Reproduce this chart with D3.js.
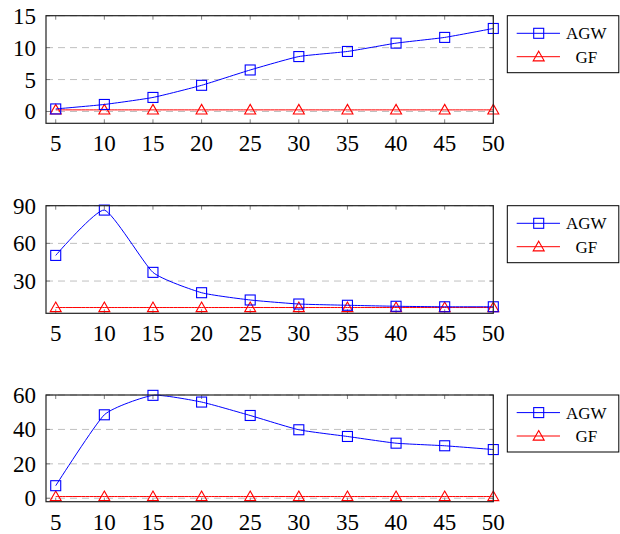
<!DOCTYPE html>
<html>
<head>
<meta charset="utf-8">
<script src="https://cdn.jsdelivr.net/npm/d3@7"></script>
<style>
  body { margin: 0; background: #ffffff; }
  svg { display: block; font-family: "Liberation Serif", "DejaVu Serif", serif; }
</style>
</head>
<body>
<div id="chart"></div>
<script>
// x positions shared by the three plots
const xValues = [5, 10, 15, 20, 25, 30, 35, 40, 45, 50];
const seriesNames = ["AGW", "GF"];

// plot 1
const agw1 = [0.4, 1.1, 2.2, 4.1, 6.5, 8.6, 9.4, 10.7, 11.6, 13.0];
const gf1 = [0.25, 0.25, 0.25, 0.25, 0.25, 0.25, 0.25, 0.25, 0.25, 0.25];
const yTicks1 = [0, 5, 10, 15];

// plot 2
const agw2 = [50.4, 86.5, 36.9, 20.7, 14.9, 11.7, 10.7, 9.9, 9.5, 9.5];
const gf2 = [8.9, 8.9, 8.9, 8.9, 8.9, 8.9, 8.9, 8.9, 8.9, 8.9];
const yTicks2 = [30, 60, 90];

// plot 3
const agw3 = [7.3, 48.5, 59.8, 55.9, 48.1, 39.8, 35.9, 32.0, 30.5, 28.3];
const gf3 = [1.0, 1.0, 1.0, 1.0, 1.0, 1.0, 1.0, 1.0, 1.0, 1.0];
const yTicks3 = [0, 20, 40, 60];

const width = 620, height = 534;
const blue = "#0000ff", red = "#ff0000";

const plots = [
    { top: 15.7, bottom: 123.3, yDomain: [-1.85, 15], ticks: yTicks1, agw: agw1, gf: gf1 },
    { top: 205.7, bottom: 313.3, yDomain: [4.3, 90], ticks: yTicks2, agw: agw2, gf: gf2 },
    { top: 395, bottom: 501.7, yDomain: [-2, 60], ticks: yTicks3, agw: agw3, gf: gf3 }
];

const svg = d3.select("#chart").append("svg")
    .attr("width", width)
    .attr("height", height);

const xScale = d3.scaleLinear()
    .domain([4, 50])
    .range([46, 493.3]);

function drawMarker(g, kind, x, y, color) {
    if (kind === "square") {
        g.append("rect")
            .attr("x", x - 5).attr("y", y - 5)
            .attr("width", 10).attr("height", 10)
            .attr("fill", "none")
            .attr("stroke", color)
            .attr("stroke-width", 1.1);
    } else {
        const s = 5.5;
        g.append("path")
            .attr("d", `M${x},${y - s} L${x + s},${y + s * 0.75} L${x - s},${y + s * 0.75} Z`)
            .attr("fill", "none")
            .attr("stroke", color)
            .attr("stroke-width", 1.1);
    }
}

function drawPlot(p) {
    const g = svg.append("g");
    const yScale = d3.scaleLinear()
        .domain(p.yDomain)
        .range([p.bottom, p.top]);
    const x0 = xScale.range()[0], x1 = xScale.range()[1];

    // dashed grid
    g.selectAll(".grid")
        .data(p.ticks)
        .enter().append("line")
        .attr("x1", x0).attr("x2", x1)
        .attr("y1", d => yScale(d)).attr("y2", d => yScale(d))
        .attr("stroke", "#c0c0c0")
        .attr("stroke-width", 1)
        .attr("stroke-dasharray", "7,5");

    // inward ticks on all four sides
    const tickColor = "#808080", tl = 4;
    xValues.forEach(v => {
        g.append("line").attr("x1", xScale(v)).attr("x2", xScale(v))
            .attr("y1", p.bottom).attr("y2", p.bottom - tl)
            .attr("stroke", tickColor);
        g.append("line").attr("x1", xScale(v)).attr("x2", xScale(v))
            .attr("y1", p.top).attr("y2", p.top + tl)
            .attr("stroke", tickColor);
    });
    p.ticks.forEach(v => {
        g.append("line").attr("x1", x0).attr("x2", x0 + tl)
            .attr("y1", yScale(v)).attr("y2", yScale(v))
            .attr("stroke", tickColor);
        g.append("line").attr("x1", x1).attr("x2", x1 - tl)
            .attr("y1", yScale(v)).attr("y2", yScale(v))
            .attr("stroke", tickColor);
    });

    // tick labels
    g.selectAll(".xl")
        .data(xValues)
        .enter().append("text")
        .attr("x", d => xScale(d))
        .attr("y", p.bottom + 28)
        .attr("text-anchor", "middle")
        .attr("font-size", 23)
        .text(d => d);

    g.selectAll(".yl")
        .data(p.ticks)
        .enter().append("text")
        .attr("x", 36)
        .attr("y", d => yScale(d) + 8)
        .attr("text-anchor", "end")
        .attr("font-size", 23)
        .text(d => d);

    const line = d3.line()
        .x((d, i) => xScale(xValues[i]))
        .y(d => yScale(d))
        .curve(d3.curveCardinal.tension(0.5));

    const series = [
        { values: p.gf, color: red, marker: "triangle" },
        { values: p.agw, color: blue, marker: "square" }
    ];
    series.forEach(s => {
        g.append("path")
            .datum(s.values)
            .attr("fill", "none")
            .attr("stroke", s.color)
            .attr("stroke-width", 1)
            .attr("d", line);
        s.values.forEach((v, i) => drawMarker(g, s.marker, xScale(xValues[i]), yScale(v), s.color));
    });

    // frame
    g.append("rect")
        .attr("x", x0).attr("y", p.top)
        .attr("width", x1 - x0).attr("height", p.bottom - p.top)
        .attr("fill", "none")
        .attr("stroke", "#222")
        .attr("stroke-width", 1.2);

    // legend
    const lg = svg.append("g").attr("transform", `translate(507.3,${p.top})`);
    lg.append("rect")
        .attr("width", 111.5).attr("height", 57)
        .attr("fill", "white")
        .attr("stroke", "#000")
        .attr("stroke-width", 1);
    const legendItems = [
        { name: seriesNames[0], color: blue, marker: "square", y: 17.6 },
        { name: seriesNames[1], color: red, marker: "triangle", y: 41 }
    ];
    legendItems.forEach(it => {
        lg.append("line")
            .attr("x1", 9.4).attr("x2", 52.7)
            .attr("y1", it.y).attr("y2", it.y)
            .attr("stroke", it.color);
        drawMarker(lg, it.marker, 31.4, it.y, it.color);
        lg.append("text")
            .attr("x", 79)
            .attr("y", it.y + 6)
            .attr("text-anchor", "middle")
            .attr("font-size", 17)
            .text(it.name);
    });
}

plots.forEach(drawPlot);
</script>
</body>
</html>
